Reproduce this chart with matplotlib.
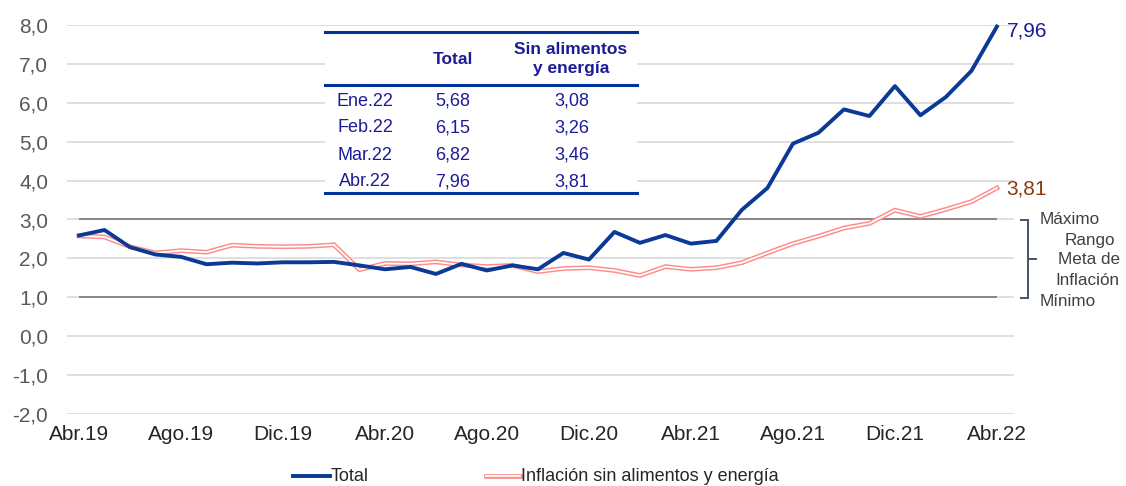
import matplotlib.pyplot as plt
from matplotlib.lines import Line2D
from matplotlib.patches import Rectangle

plt.rcParams['font.family'] = ['Liberation Sans', 'DejaVu Sans']

# Inflación anual (%), Abr.19 - Abr.22
total = [2.59, 2.73, 2.29, 2.10, 2.04, 1.85, 1.89, 1.87, 1.90, 1.90, 1.91, 1.82,
         1.72, 1.78, 1.60, 1.86, 1.69, 1.82, 1.72, 2.14, 1.97, 2.68, 2.40, 2.60,
         2.38, 2.45, 3.25, 3.81, 4.95, 5.23, 5.83, 5.66, 6.43, 5.68, 6.15, 6.82, 7.96]
core = [2.58, 2.55, 2.30, 2.14, 2.20, 2.16, 2.34, 2.31, 2.30, 2.31, 2.35, 1.71,
        1.87, 1.86, 1.91, 1.83, 1.79, 1.82, 1.66, 1.74, 1.76, 1.69, 1.56, 1.79,
        1.72, 1.76, 1.89, 2.14, 2.38, 2.57, 2.78, 2.90, 3.24, 3.08, 3.26, 3.46, 3.81]
tick_labels = ['Abr.19', 'Ago.19', 'Dic.19', 'Abr.20', 'Ago.20', 'Dic.20',
               'Abr.21', 'Ago.21', 'Dic.21', 'Abr.22']
y_ticks = [8, 7, 6, 5, 4, 3, 2, 1, 0, -1, -2]
meta_min, meta_max = 1.0, 3.0

tabla_meses = ['Ene.22', 'Feb.22', 'Mar.22', 'Abr.22']
tabla_total = ['5,68', '6,15', '6,82', '7,96']
tabla_core = ['3,08', '3,26', '3,46', '3,81']

W, H = 1126, 486
BLUE = '#0A3A96'
PINK = '#FF8A8A'
NAVY = '#1C1C96'
GREY_TXT = '#404040'

fig = plt.figure(figsize=(W / 100, H / 100), dpi=100, facecolor='white')
ax = fig.add_axes([67 / W, 1 - 414 / H, (1014 - 67) / W, (414 - 25) / H])

x = list(range(len(total)))

for y in y_ticks:
    ax.axhline(y, color='#D9D9D9', lw=1.2, zorder=0)
ax.hlines([meta_min, meta_max], 0, len(total) - 1, color='#808080', lw=1.3, zorder=1)

ax.plot(x, core, color=PINK, lw=3.4, solid_joinstyle='miter', zorder=2, clip_on=False)
ax.plot(x, core, color='white', lw=1.3, zorder=3, clip_on=False)
ax.plot(x, total, color=BLUE, lw=2.8, zorder=4, clip_on=False)

ax.set_xlim(-0.47, len(total) - 1 + 0.67)
ax.set_ylim(-2, 8)
ax.set_yticks(y_ticks)
ax.set_yticklabels([f'{v:.1f}'.replace('.', ',') for v in y_ticks])
ax.set_xticks(range(0, len(total), 4))
ax.set_xticklabels(tick_labels)
ax.tick_params(axis='y', length=0, pad=13.5, labelsize=15, labelcolor='#595959')
ax.tick_params(axis='x', length=0, pad=8, labelsize=15, labelcolor='#262626')
for s in ax.spines.values():
    s.set_visible(False)

# etiquetas finales
ax.annotate(f'{total[-1]:.2f}'.replace('.', ','), (x[-1], total[-1]),
            xytext=(7, -3), textcoords='offset points', color=NAVY,
            fontsize=15, va='center', ha='left', annotation_clip=False)
ax.annotate(f'{core[-1]:.2f}'.replace('.', ','), (x[-1], core[-1]),
            xytext=(7, -1), textcoords='offset points', color='#8B3A0E',
            fontsize=15, va='center', ha='left', annotation_clip=False)


def fx(px):
    return px / W


def fy(py):
    return 1 - py / H


# rango meta
bx = 1028
for seg in [((1021, bx), (220, 220)), ((bx, bx), (220, 298)),
            ((1021, bx), (298, 298)), ((bx, 1036), (259, 259))]:
    fig.add_artist(Line2D([fx(seg[0][0]), fx(seg[0][1])],
                          [fy(seg[1][0]), fy(seg[1][1])],
                          color='#44546A', lw=1.4))
for txt, px, py in [('Máximo', 1040, 219), ('Rango', 1065, 240), ('Meta de', 1058, 260),
                    ('Inflación', 1055, 280), ('Mínimo', 1040, 301)]:
    fig.text(fx(px), fy(py), txt, fontsize=12.3, color=GREY_TXT, va='center', ha='left')

# tabla
fig.add_artist(Rectangle((fx(325), fy(193)), fx(637) - fx(325), fy(32) - fy(193),
                         facecolor='white', edgecolor='none', zorder=5))
for py in [32, 85, 193]:
    fig.add_artist(Line2D([fx(325), fx(637)], [fy(py), fy(py)], color='#003399',
                          lw=2.2, zorder=6))
fig.text(fx(453), fy(59), 'Total', fontsize=12.5, fontweight='bold', color=NAVY,
         ha='center', va='center', zorder=7)
fig.text(fx(571), fy(59), 'Sin alimentos\ny energía', fontsize=12.5, fontweight='bold',
         color=NAVY, ha='center', va='center', linespacing=1.35, zorder=7)
for i, (m, t, c) in enumerate(zip(tabla_meses, tabla_total, tabla_core)):
    py = 101 + i * 27
    fig.text(fx(365), fy(py), m, fontsize=13, color=NAVY, ha='center', va='center', zorder=7)
    fig.text(fx(453), fy(py), t, fontsize=13, color=NAVY, ha='center', va='center', zorder=7)
    fig.text(fx(572), fy(py), c, fontsize=13, color=NAVY, ha='center', va='center', zorder=7)

# leyenda
fig.add_artist(Line2D([fx(293), fx(330)], [fy(476), fy(476)], color=BLUE, lw=2.8))
fig.text(fx(331), fy(476), 'Total', fontsize=13, color='#262626', va='center', ha='left')
fig.add_artist(Line2D([fx(486), fx(520)], [fy(476), fy(476)], color=PINK, lw=3.4))
fig.add_artist(Line2D([fx(486), fx(520)], [fy(476), fy(476)], color='white', lw=1.3))
fig.text(fx(521), fy(476), 'Inflación sin alimentos y energía', fontsize=13,
         color='#262626', va='center', ha='left')

fig.savefig('out.png', dpi=100, facecolor='white')
